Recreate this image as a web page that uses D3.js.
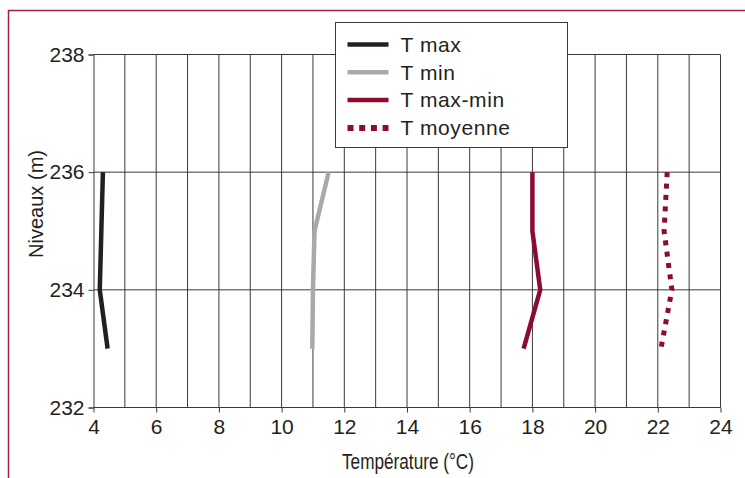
<!DOCTYPE html>
<html>
<head>
<meta charset="utf-8">
<script src="https://cdn.jsdelivr.net/npm/d3@7"></script>
<style>
  body { margin: 0; background: #fff; }
  svg text { font-family: "Liberation Sans", Arial, sans-serif; fill: #231f20; }
</style>
</head>
<body>
<div id="chart"></div>
<script>
// niveaux (m) and temperatures (°C)
const levels = [236, 235, 234, 233]
const tMax = [4.3, 4.25, 4.2, 4.45]
const tMin = [11.5, 11.05, 11.0, 10.98]
const tMaxMin = [18.0, 18.0, 18.25, 17.72]
const tMoy = [22.3, 22.2, 22.45, 22.1]

const xTicks = [4, 6, 8, 10, 12, 14, 16, 18, 20, 22, 24]
const yTicks = [232, 234, 236, 238]

const series = [
  { name: "T max", values: tMax, color: "#231f20", dash: null },
  { name: "T min", values: tMin, color: "#a7a9ac", dash: null },
  { name: "T max-min", values: tMaxMin, color: "#8c0b2f", dash: null },
  { name: "T moyenne", values: tMoy, color: "#8c0b2f", dash: "5,6.4" }
]

const width = 745, height = 478

var svg = d3.select("#chart")
              .append("svg")
                .attr("width", width)
                .attr("height", height)

// frame
svg.append("rect")
      .attr("x", 8.5)
      .attr("y", 10.5)
      .attr("width", 800)
      .attr("height", 600)
      .attr("fill", "none")
      .attr("stroke", "#a3203f")
      .attr("stroke-width", 1.5)

var x = d3.scaleLinear().domain([4, 24]).range([93.5, 720.5])
var y = d3.scaleLinear().domain([232, 238]).range([407.5, 54.5])

const gridColor = "#3a3a3a"

// vertical grid, one line per degree
svg.append("g")
    .selectAll("line").data(d3.range(5, 25)).enter()
      .append("line")
        .attr("x1", d => x(d)).attr("x2", d => x(d))
        .attr("y1", y(238)).attr("y2", y(232))
        .attr("stroke", gridColor)
        .attr("stroke-width", 1)

// horizontal grid
svg.append("g")
    .selectAll("line").data(yTicks).enter()
      .append("line")
        .attr("x1", x(4)).attr("x2", x(24))
        .attr("y1", d => y(d)).attr("y2", d => y(d))
        .attr("stroke", gridColor)
        .attr("stroke-width", 1)

// axes
var xAxis = svg.append("g")
    .attr("transform", "translate(0," + y(232) + ")")
    .call(d3.axisBottom(x).tickValues(xTicks).tickSize(5).tickPadding(7))
var yAxis = svg.append("g")
    .attr("transform", "translate(" + x(4) + ",0)")
    .call(d3.axisLeft(y).tickValues(yTicks).tickFormat(d3.format("d")).tickSize(5).tickPadding(4))

;[xAxis, yAxis].forEach(a => {
  a.select(".domain").attr("stroke", gridColor)
  a.selectAll(".tick line").attr("stroke", gridColor)
  a.selectAll(".tick text")
      .style("font-size", "21px")
      .style("font-family", "'Liberation Sans', Arial, sans-serif")
      .attr("fill", "#231f20")
})
xAxis.select(".domain").remove()

// axis titles
svg.append("text")
    .attr("x", 408)
    .attr("y", 469)
    .attr("text-anchor", "middle")
    .attr("textLength", 132)
    .attr("lengthAdjust", "spacingAndGlyphs")
    .style("font-size", "22px")
    .text("Température (°C)")

svg.append("text")
    .attr("transform", "translate(43,204) rotate(-90)")
    .attr("text-anchor", "middle")
    .attr("textLength", 108)
    .attr("lengthAdjust", "spacingAndGlyphs")
    .style("font-size", "21px")
    .text("Niveaux (m)")

// series
var line = d3.line()
    .x(d => x(d.t))
    .y(d => y(d.level))

svg.append("g")
    .selectAll("path").data(series).enter()
      .append("path")
        .attr("d", s => line(s.values.map((t, i) => ({ t: t, level: levels[i] }))))
        .attr("fill", "none")
        .attr("stroke", s => s.color)
        .attr("stroke-width", s => s.dash ? 5 : 4.5)
        .attr("stroke-dasharray", s => s.dash)

// legend
var legend = svg.append("g").attr("transform", "translate(335.5,22.5)")
legend.append("rect")
    .attr("width", 232)
    .attr("height", 125)
    .attr("fill", "#fff")
    .attr("stroke", "#3a3a3a")
    .attr("stroke-width", 1)

var item = legend.selectAll(".item").data(series).enter()
    .append("g").attr("class", "item")
      .attr("transform", (d, i) => "translate(0," + (22 + i * 27.8) + ")")

item.append("line")
    .attr("x1", 12).attr("x2", 53)
    .attr("stroke", d => d.color)
    .attr("stroke-width", d => d.dash ? 6 : 4.5)
    .attr("stroke-dasharray", d => d.dash ? "6,5.7" : null)

item.append("text")
    .attr("x", 65)
    .attr("dy", "0.35em")
    .style("font-size", "21px")
    .style("letter-spacing", "0.6px")
    .text(d => d.name)
</script>
</body>
</html>
